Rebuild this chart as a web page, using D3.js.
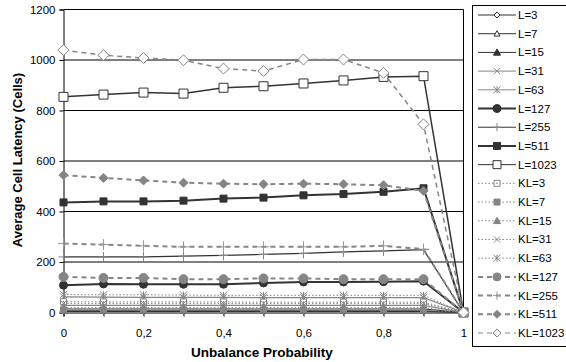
<!DOCTYPE html>
<html>
<head>
<meta charset="utf-8">
<script src="https://cdn.jsdelivr.net/npm/d3@7/dist/d3.min.js"></script>
<style>
  body { margin: 0; background: #fff; }
  svg { display: block; font-family: "Liberation Sans", Arial, sans-serif; }
</style>
</head>
<body>
<svg id="chart" width="566" height="362"></svg>
<script>
// Unbalance probability (x values)
const probabilities = [0, 0.1, 0.2, 0.3, 0.4, 0.5, 0.6, 0.7, 0.8, 0.9, 1];

// Average cell latency per configuration
const L3    = [4, 4, 4, 4, 4, 4, 4, 4, 4, 4, 0];
const L7    = [7, 7, 7, 7, 7, 7, 7, 7, 7, 7, 0];
const L15   = [14, 14, 14, 14, 14, 14, 14, 14, 14, 14, 0];
const L31   = [28, 28, 28, 28, 28, 28, 28, 28, 28, 28, 0];
const L63   = [62, 61, 60, 60, 60, 59, 59, 59, 59, 59, 0];
const L127  = [108, 113, 112, 112, 112, 117, 121, 121, 122, 124, 0];
const L255  = [220, 220, 220, 223, 226, 230, 234, 240, 244, 249, 0];
const L511  = [436, 440, 440, 443, 451, 455, 464, 469, 478, 492, 0];
const L1023 = [854, 863, 871, 867, 890, 896, 907, 919, 933, 936, 0];
const KL3    = [43, 42, 42, 42, 42, 41, 41, 41, 41, 41, 0];
const KL7    = [10, 10, 10, 10, 10, 10, 10, 10, 10, 10, 0];
const KL15   = [19, 19, 19, 19, 19, 19, 19, 19, 19, 19, 0];
const KL31   = [36, 36, 36, 36, 36, 36, 36, 36, 36, 36, 0];
const KL63   = [71, 70, 70, 69, 68, 68, 68, 68, 68, 68, 0];
const KL127  = [141, 137, 137, 132, 132, 135, 135, 132, 132, 132, 0];
const KL255  = [273, 269, 264, 260, 260, 260, 260, 260, 264, 251, 0];
const KL511  = [544, 533, 523, 514, 510, 508, 510, 508, 504, 482, 0];
const KL1023 = [1039, 1019, 1008, 999, 966, 956, 1002, 1002, 949, 745, 0];

const seriesNames = ["L=3", "L=7", "L=15", "L=31", "L=63", "L=127", "L=255", "L=511", "L=1023",
                     "KL=3", "KL=7", "KL=15", "KL=31", "KL=63", "KL=127", "KL=255", "KL=511", "KL=1023"];
const seriesValues = [L3, L7, L15, L31, L63, L127, L255, L511, L1023,
                      KL3, KL7, KL15, KL31, KL63, KL127, KL255, KL511, KL1023];

const yTicks = [0, 200, 400, 600, 800, 1000, 1200];
const xTicks = [0, 0.2, 0.4, 0.6, 0.8, 1];

// Line and marker styles, one per series
const DARK = "#333", GREY = "#858585";
const styles = [
  { line: DARK, w: 1,   dash: null,  m: "diamond",  ms: 6,  fill: "#fff", stroke: DARK },
  { line: DARK, w: 1,   dash: null,  m: "triangle", ms: 6,  fill: "#fff", stroke: DARK },
  { line: DARK, w: 1,   dash: null,  m: "triangle", ms: 7,  fill: DARK,   stroke: DARK },
  { line: GREY, w: 1.2, dash: null,  m: "x",        ms: 6,  fill: "none", stroke: GREY },
  { line: GREY, w: 1.2, dash: null,  m: "star",     ms: 7,  fill: "none", stroke: GREY },
  { line: DARK, w: 2,   dash: null,  m: "circle",   ms: 8,  fill: DARK,   stroke: DARK },
  { line: DARK, w: 1.2, dash: null,  m: "plus",     ms: 10, fill: "none", stroke: GREY },
  { line: DARK, w: 2,   dash: null,  m: "square",   ms: 7,  fill: DARK,   stroke: DARK },
  { line: DARK, w: 1.5, dash: null,  m: "square",   ms: 9,  fill: "#fff", stroke: DARK },
  { line: GREY, w: 1,   dash: "1.5,2", m: "squaredot", ms: 6, fill: "#fff", stroke: GREY },
  { line: GREY, w: 1,   dash: "1.5,2", m: "square",   ms: 6,  fill: GREY,   stroke: GREY },
  { line: GREY, w: 1,   dash: "1.5,2", m: "triangle", ms: 7,  fill: GREY,   stroke: GREY },
  { line: GREY, w: 1,   dash: "1.5,2", m: "x",        ms: 6,  fill: "none", stroke: GREY },
  { line: GREY, w: 1,   dash: "1.5,2", m: "star",     ms: 7,  fill: "none", stroke: GREY },
  { line: GREY, w: 2,   dash: "5,4", m: "circle",   ms: 9,  fill: GREY,   stroke: GREY },
  { line: GREY, w: 2,   dash: "5,4", m: "plus",     ms: 11, fill: "none", stroke: "#999" },
  { line: GREY, w: 2,   dash: "5,4", m: "diamond",  ms: 9,  fill: GREY,   stroke: GREY },
  { line: GREY, w: 1.5, dash: "5,4", m: "diamond",  ms: 11, fill: "#fff", stroke: GREY }
];

const svg = d3.select("#chart");
const x = d3.scaleLinear().domain([0, 1]).range([63.5, 463.5]);
const y = d3.scaleLinear().domain([0, 1200]).range([312.5, 9.5]);

const fmt = d => String(d).replace(".", ",");

// Horizontal gridlines
svg.append("g")
  .selectAll("line")
  .data(yTicks.filter(d => d > 0))
  .join("line")
  .attr("x1", x(0)).attr("x2", x(1))
  .attr("y1", d => y(d)).attr("y2", d => y(d))
  .attr("stroke", "#000").attr("stroke-width", 1);

// Right edge of the plot area
svg.append("line")
  .attr("x1", x(1)).attr("x2", x(1))
  .attr("y1", y(1200)).attr("y2", y(0))
  .attr("stroke", "#000").attr("stroke-width", 1);

// Y axis
const yAxis = svg.append("g")
  .attr("transform", `translate(${x(0)},0)`)
  .call(d3.axisLeft(y).tickValues(yTicks).tickSize(4).tickPadding(4).tickFormat(d => d));
yAxis.select(".domain").attr("stroke", "#000");
yAxis.selectAll("line").attr("stroke", "#000");
yAxis.selectAll("text").attr("font-size", 11.5).attr("fill", "#000")
  .attr("font-family", "Liberation Sans, Arial, sans-serif");

// X axis
const xAxis = svg.append("g")
  .attr("transform", `translate(0,${y(0)})`)
  .call(d3.axisBottom(x).tickValues(probabilities).tickSize(4).tickPadding(12)
    .tickFormat(d => xTicks.some(t => Math.abs(t - d) < 1e-9) ? fmt(d) : ""));
xAxis.select(".domain").attr("stroke", "#000");
xAxis.selectAll("line").attr("stroke", "#000");
xAxis.selectAll("text").attr("font-size", 11.5).attr("fill", "#000")
  .attr("font-family", "Liberation Sans, Arial, sans-serif");

// Axis titles
svg.append("text")
  .attr("x", 262).attr("y", 357)
  .attr("text-anchor", "middle")
  .attr("font-size", 13.5).attr("font-weight", "bold")
  .text("Unbalance Probability");

svg.append("text")
  .attr("transform", "translate(22,160) rotate(-90)")
  .attr("text-anchor", "middle")
  .attr("font-size", 13).attr("font-weight", "bold")
  .text("Average Cell Latency (Cells)");

// Marker path builder
function markerPath(type, s) {
  const h = s / 2;
  switch (type) {
    case "diamond": return `M0,${-h}L${h},0L0,${h}L${-h},0Z`;
    case "triangle": return `M0,${-h}L${h},${h * 0.8}L${-h},${h * 0.8}Z`;
    case "square": case "squaredot": return `M${-h},${-h}H${h}V${h}H${-h}Z`;
    case "x": return `M${-h},${-h}L${h},${h}M${h},${-h}L${-h},${h}`;
    case "star": return `M${-h},${-h}L${h},${h}M${h},${-h}L${-h},${h}M0,${-h}V${h}`;
    case "plus": return `M${-h},0H${h}M0,${-h}V${h}`;
    case "circle": return d3.symbol(d3.symbolCircle, Math.PI * h * h)();
  }
}

const line = d3.line().x((d, i) => x(probabilities[i])).y(d => y(d));

// Series lines and markers, drawn in legend order
seriesValues.forEach((vals, si) => {
  const st = styles[si];
  const g = svg.append("g");
  g.append("path")
    .datum(vals)
    .attr("d", line)
    .attr("fill", "none")
    .attr("stroke", st.line)
    .attr("stroke-width", st.w)
    .attr("stroke-dasharray", st.dash);
  g.selectAll("path.m")
    .data(vals)
    .join("path")
    .attr("class", "m")
    .attr("transform", (d, i) => `translate(${x(probabilities[i])},${y(d)})`)
    .attr("d", markerPath(st.m, st.ms))
    .attr("fill", st.fill)
    .attr("stroke", st.stroke)
    .attr("stroke-width", 1);
  if (st.m === "squaredot") {
    g.selectAll("circle.d")
      .data(vals)
      .join("circle")
      .attr("cx", (d, i) => x(probabilities[i]))
      .attr("cy", d => y(d))
      .attr("r", 0.8)
      .attr("fill", GREY);
  }
});

// Legend
const legend = svg.append("g");
legend.append("rect")
  .attr("x", 472.5).attr("y", 5.5)
  .attr("width", 130).attr("height", 341)
  .attr("fill", "#fff").attr("stroke", "#000");

const rowY = d3.scalePoint().domain(seriesNames).range([15, 333]);
seriesNames.forEach((name, si) => {
  const st = styles[si];
  const cy = rowY(name);
  legend.append("line")
    .attr("x1", 478).attr("x2", 516)
    .attr("y1", cy).attr("y2", cy)
    .attr("stroke", st.line)
    .attr("stroke-width", Math.min(st.w, st.w >= 2 ? 2 : 1))
    .attr("stroke-dasharray", st.dash);
  legend.append("path")
    .attr("transform", `translate(497,${cy})`)
    .attr("d", markerPath(st.m, Math.min(st.ms, 8)))
    .attr("fill", st.fill)
    .attr("stroke", st.stroke)
    .attr("stroke-width", 1);
  if (st.m === "squaredot") {
    legend.append("circle").attr("cx", 497).attr("cy", cy).attr("r", 0.8).attr("fill", GREY);
  }
  legend.append("text")
    .attr("x", 518).attr("y", cy + 4)
    .attr("font-size", 11.5)
    .text(name);
});
</script>
</body>
</html>
